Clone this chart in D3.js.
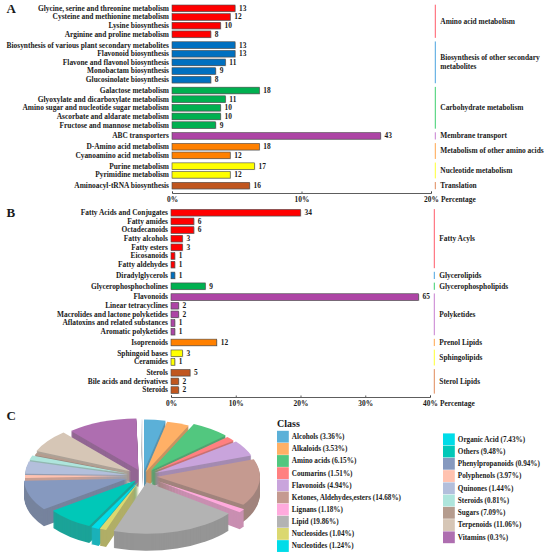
<!DOCTYPE html>
<html><head><meta charset="utf-8">
<script src="https://cdnjs.cloudflare.com/ajax/libs/d3/7.8.5/d3.min.js"></script>
<style>
html,body{margin:0;padding:0;background:#fff}
text{font-family:"Liberation Serif",serif;font-weight:bold;fill:#1a1a1a}
</style></head><body>
<svg id="c" width="550" height="556"></svg>
<script>
// Panel A
const aGroups = ["Amino acid metabolism","Biosynthesis of other secondary|metabolites","Carbohydrate metabolism","Membrane transport","Metabolism of other amino acids","Nucleotide metabolism","Translation"];
const aNames = [
 ["Glycine, serine and threonine metabolism","Cysteine and methionine metabolism","Lysine biosynthesis","Arginine and proline metabolism"],
 ["Biosynthesis of various plant secondary metabolites","Flavonoid biosynthesis","Flavone and flavonol biosynthesis","Monobactam biosynthesis","Glucosinolate biosynthesis"],
 ["Galactose metabolism","Glyoxylate and dicarboxylate metabolism","Amino sugar and nucleotide sugar metabolism","Ascorbate and aldarate metabolism","Fructose and mannose metabolism"],
 ["ABC transporters"],
 ["D-Amino acid metabolism","Cyanoamino acid metabolism"],
 ["Purine metabolism","Pyrimidine metabolism"],
 ["Aminoacyl-tRNA biosynthesis"]];
const aValues = [[13,12,10,8],[13,13,11,9,8],[18,11,10,10,9],[43],[18,12],[17,12],[16]];
const aTicks = [0,10,20];
const aPerPercent = 2.67; // annotated count per 1%

// Panel B
const bGroups = ["Fatty Acyls","Glycerolipids","Glycerophospholipids","Polyketides","Prenol Lipids","Sphingolipids","Sterol Lipids"];
const bNames = [
 ["Fatty Acids and Conjugates","Fatty amides","Octadecanoids","Fatty alcohols","Fatty esters","Eicosanoids","Fatty aldehydes"],
 ["Diradylglycerols"],
 ["Glycerophosphocholines"],
 ["Flavonoids","Linear tetracyclines","Macrolides and lactone polyketides","Aflatoxins and related substances","Aromatic polyketides"],
 ["Isoprenoids"],
 ["Sphingoid bases","Ceramides"],
 ["Sterols","Bile acids and derivatives","Steroids"]];
const bValues = [[34,6,6,3,3,1,1],[1],[9],[65,2,2,1,1],[12],[3,1],[5,2,2]];
const bTicks = [0,10,20,30,40];
const bPerPercent = 1.70;

const barColors = ["#ff0000","#0070c0","#00b050","#ad45a5","#ff8000","#ffff00","#c0561f"];
const sideColors = ["#ff5a6a","#4aa3df","#3ccf6e","#c77fd0","#ffa64d","#ffff33","#e08a5a"];

// Panel C
const classNames = ["Alcohols (3.36%)","Alkaloids (3.53%)","Amino acids (6.15%)","Coumarins (1.51%)","Flavonoids (4.94%)","Ketones, Aldehydes,esters (14.68%)","Lignans (1.18%)","Lipid (19.86%)","Nucleosides (1.04%)","Nucleotides (1.24%)","Organic Acid (7.43%)","Others (9.48%)","Phenylpropanoids (0.94%)","Polyphenols (3.97%)","Quinones (1.44%)","Steroids (0.81%)","Sugars (7.09%)","Terpenoids (11.06%)","Vitamins (0.3%)"];
const classValues = [3.36,3.53,6.15,1.51,4.94,14.68,1.18,19.86,1.04,1.24,7.43,9.48,0.94,3.97,1.44,0.81,7.09,11.06,0.3];
const sliceColors = ["#5bb0d8","#ffb066","#52c77f","#ff8080","#c9a4dc","#c59a90","#ffaadd","#b3b3b3","#dbd870","#00dce8","#00c8b8","#8699bf","#ffc2b0","#b3bfdc","#aee5dc","#b59c8e","#d6c6b6","#ae6eb0","#f2f3f8"];
const legendColors = ["#5bb0d8","#ffb066","#52c77f","#ff8080","#c9a4dc","#c59a90","#ffaadd","#b3b3b3","#dbd870","#00dce8","#00dce8","#00c8b8","#8699bf","#ffc2b0","#b3bfdc","#aee5dc","#b59c8e","#d6c6b6","#ae6eb0"];
const sliceExplode = [10,8,13,12,13,14,18,13,11,12,11,17,15,15,15,13,15,13,10];

const svg = d3.select("#c");

function panel(cfg){
  const g = svg.append("g");
  const x = d3.scaleLinear().domain([0,cfg.ticks[cfg.ticks.length-1]]).range(cfg.xRange);
  const y = d3.scaleLinear().domain([0,1]).range([cfg.yTop,cfg.yTop+cfg.step]);
  const rows=[]; const spans=[];
  let idx=0;
  cfg.names.forEach((grp,gi)=>{
    const first=idx+gi*0.25;
    grp.forEach((n,i)=>{rows.push({n,v:cfg.values[gi][i],gi,slot:idx+gi*0.25});idx++;});
    spans.push({gi,a:first,b:idx-1+gi*0.25});
  });
  const barH=6.6;
  g.selectAll("rect.s").data(rows).join("rect")
    .attr("x",x(0)).attr("y",d=>y(d.slot)-barH/2+0.6)
    .attr("width",d=>x(d.v/cfg.per)-x(0)+0.8).attr("height",barH)
    .attr("fill","#c4c4c4");
  g.selectAll("rect.b").data(rows).join("rect")
    .attr("x",x(0)).attr("y",d=>y(d.slot)-barH/2)
    .attr("width",d=>x(d.v/cfg.per)-x(0)).attr("height",barH)
    .attr("fill",d=>barColors[d.gi]).attr("stroke","#4a4a4a").attr("stroke-width",0.6);
  g.selectAll("text.n").data(rows).join("text")
    .attr("x",x(0)-3).attr("y",d=>y(d.slot)).attr("dy","0.33em")
    .attr("text-anchor","end").attr("font-size",cfg.fs).text(d=>d.n);
  g.selectAll("text.v").data(rows).join("text")
    .attr("x",d=>x(d.v/cfg.per)+4).attr("y",d=>y(d.slot)).attr("dy","0.33em")
    .attr("font-size",cfg.fs).text(d=>d.v);
  g.selectAll("line.side").data(spans).join("line")
    .attr("x1",cfg.sideX).attr("x2",cfg.sideX)
    .attr("y1",d=>y(d.a)-3.6).attr("y2",d=>y(d.b)+3.6)
    .attr("stroke",d=>sideColors[d.gi]).attr("stroke-width",1);
  spans.forEach(s=>{
    const lines=cfg.groups[s.gi].split("|");
    const my=(y(s.a)+y(s.b))/2;
    lines.forEach((t,i)=>g.append("text").attr("x",cfg.sideX+5)
      .attr("y",my+(i-(lines.length-1)/2)*9).attr("dy","0.33em")
      .attr("font-size",cfg.fs).text(t));
  });
  const ax=g.append("g").attr("transform",`translate(0,${cfg.axisY})`)
    .call(d3.axisBottom(x).tickValues(cfg.ticks).tickFormat(d=>d+"%").tickSize(-1.5).tickPadding(3.5));
  ax.selectAll("path,line").attr("stroke","#333").attr("stroke-width",0.8);
  ax.selectAll("text").attr("font-size",cfg.fs).attr("font-family","Liberation Serif").attr("font-weight","bold").attr("fill","#1a1a1a");
  g.append("text").attr("x",cfg.xRange[1]+10).attr("y",cfg.axisY+7).attr("dy","0.33em").attr("font-size",cfg.fs).text("Percentage");
}

panel({names:aNames,values:aValues,groups:aGroups,ticks:aTicks,per:aPerPercent,xRange:[172,431],yTop:8.3,step:8.65,sideX:435.3,axisY:193,fs:7.4});
panel({names:bNames,values:bValues,groups:bGroups,ticks:bTicks,per:bPerPercent,xRange:[171,430],yTop:212.7,step:8.65,sideX:434.3,axisY:397,fs:7.4});

[["A",9],["B",212.5],["C",416]].forEach(([t,yy])=>svg.append("text").attr("x",6.5).attr("y",yy).attr("dy","0.33em").attr("font-size",13).text(t));

// 3D pie
const cx=143, cy=476, R=103, k=0.5, depth=17;
const arcs=d3.pie().sort(null).value(d=>d)(classValues).map((a,i)=>({...a,i}));
const arc=d3.arc().innerRadius(0).outerRadius(R);
const mid=a=>(a.startAngle+a.endAngle)/2;
const pg=svg.append("g");
arcs.slice().sort((p,q)=>-Math.cos(mid(p))+Math.cos(mid(q))).forEach(a=>{
  const e=sliceExplode[a.i];
  const ox=cx+e*Math.sin(mid(a)), oy=cy-e*k*Math.cos(mid(a));
  const gs=pg.append("g");
  const wall=d3.interpolateRgb(sliceColors[a.i],"#555")(0.32);
  d3.range(depth,0,-1).forEach(dz=>{
    gs.append("path").attr("d",arc(a)).attr("fill",wall)
      .attr("transform",`translate(${ox},${oy+dz}) scale(1,${k})`);
  });
  gs.append("path").attr("d",arc(a)).attr("fill",sliceColors[a.i])
    .attr("transform",`translate(${ox},${oy}) scale(1,${k})`);
});

// Legend
const lg=svg.append("g");
lg.append("text").attr("x",277).attr("y",423.5).attr("dy","0.33em").attr("font-size",10).text("Class");
const colA=d3.scaleLinear().domain([0,1]).range([436.7,448.85]);
const colB=d3.scaleLinear().domain([0,1]).range([439.3,451.55]);
classNames.forEach((n,i)=>{
  const second=i>=10;
  const lx=second?443:277;
  const ly=second?colB(i-10):colA(i);
  lg.append("rect").attr("x",lx).attr("y",ly-5.9).attr("width",11.8).attr("height",11.8).attr("fill",legendColors[i]);
  lg.append("text").attr("x",lx+14.8).attr("y",ly).attr("dy","0.33em").attr("font-size",7.2).text(n);
});
</script>
</body></html>
